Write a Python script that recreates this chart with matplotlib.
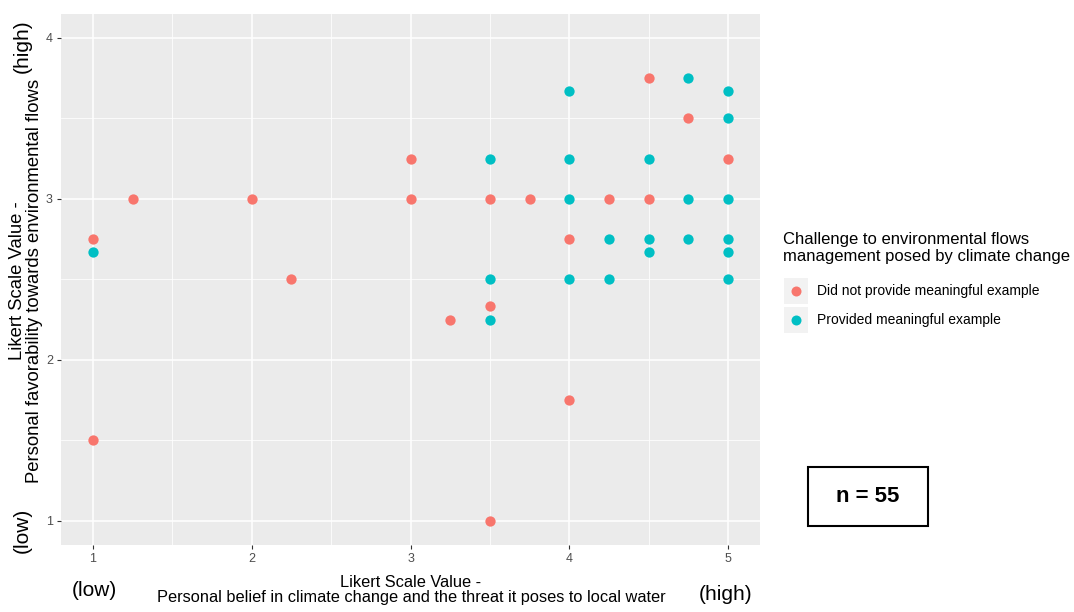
import matplotlib.pyplot as plt
from matplotlib.lines import Line2D
from matplotlib.patches import Rectangle

plt.rcParams['font.family'] = ['Liberation Sans', 'DejaVu Sans']

# belief in climate change (x) vs favorability towards environmental flows (y)
no_example_x = [1, 1, 1.25, 2, 2.25, 3, 3, 3.25, 3.5, 3.5, 3.5, 3.75, 4, 4, 4.25, 4.5, 4.5, 4.75, 5]
no_example_y = [2.75, 1.5, 3, 3, 2.5, 3.25, 3, 2.25, 3, 2.333, 1, 3, 2.75, 1.75, 3, 3.75, 3, 3.5, 3.25]

example_x = [1, 3.5, 3.5, 3.5, 4, 4, 4, 4, 4.25, 4.25, 4.5, 4.5, 4.5,
             4.75, 4.75, 4.75, 5, 5, 5, 5, 5, 5]
example_y = [2.667, 3.25, 2.5, 2.25, 3.667, 3.25, 3, 2.5, 2.75, 2.5, 3.25, 2.75, 2.667,
             3.75, 3, 2.75, 3.667, 3.5, 3, 2.75, 2.667, 2.5]

groups = ["Did not provide meaningful example", "Provided meaningful example"]
colors = ["#F8766D", "#00BFC4"]
n_total = 55

W, H = 1074, 612
fig = plt.figure(figsize=(W / 100, H / 100), dpi=100)
ax = fig.add_axes([61.25 / W, 1 - 545 / H, 698.5 / W, (545 - 13.6) / H])
ax.set_facecolor("#EBEBEB")

ax.set_xlim(0.8, 5.2)
ax.set_ylim(0.85, 4.15)
ax.set_xticks([1, 2, 3, 4, 5])
ax.set_yticks([1, 2, 3, 4])
ax.set_xticks([1.5, 2.5, 3.5, 4.5], minor=True)
ax.set_yticks([1.5, 2.5, 3.5], minor=True)
ax.grid(which="major", color="white", linewidth=1.1)
ax.grid(which="minor", color="white", linewidth=0.55)
ax.set_axisbelow(True)
for s in ax.spines.values():
    s.set_visible(False)
ax.tick_params(which="major", length=3, width=0.8, color="#333333",
               labelsize=9, labelcolor="#4D4D4D", pad=3)
ax.tick_params(which="minor", length=0)

ax.scatter(no_example_x, no_example_y, s=55, color=colors[0], linewidths=0, zorder=3)
ax.scatter(example_x, example_y, s=55, color=colors[1], linewidths=0, zorder=3)

# axis titles
fig.text(411 / W, 1 - 590 / H,
         "Likert Scale Value -\nPersonal belief in climate change and the threat it poses to local water",
         ha="center", va="center", fontsize=11.8, color="black", linespacing=0.95)
fig.text(26 / W, 1 - 281 / H,
         "Likert Scale Value -\nPersonal favorability towards environmental flows",
         ha="center", va="center", rotation=90, fontsize=13.3, color="black", linespacing=0.95)

# low / high end notes
fig.text(94 / W, 1 - 590 / H, "(low)", ha="center", va="center", fontsize=15)
fig.text(726 / W, 1 - 595 / H, "(high)", ha="center", va="center", fontsize=15)
fig.text(22 / W, 1 - 530 / H, "(low)", ha="center", va="center", fontsize=15, rotation=90)
fig.text(22 / W, 1 - 46 / H, "(high)", ha="center", va="center", fontsize=15, rotation=90)

# legend
fig.text(783 / W, 1 - 248 / H,
         "Challenge to environmental flows\nmanagement posed by climate change",
         ha="left", va="center", fontsize=12, linespacing=1.2)
for i, (label, c) in enumerate(zip(groups, colors)):
    yc = 291 + i * 29
    fig.patches.append(Rectangle((784 / W, 1 - (yc + 13) / H), 24 / W, 26 / H,
                                 transform=fig.transFigure, facecolor="#F2F2F2",
                                 edgecolor="none"))
    fig.lines.append(Line2D([796 / W], [1 - yc / H], transform=fig.transFigure,
                            marker="o", markersize=7.2, color=c, markeredgewidth=0))
    fig.text(817 / W, 1 - yc / H, label, ha="left", va="center", fontsize=10)

# sample size box
fig.patches.append(Rectangle((808 / W, 1 - 526 / H), 120 / W, 59 / H,
                             transform=fig.transFigure, facecolor="white",
                             edgecolor="black", linewidth=1.5))
fig.text(868 / W, 1 - 497 / H, f"n = {n_total}", ha="center", va="center",
         fontsize=16, fontweight="bold")

fig.savefig("out.png", dpi=100)
